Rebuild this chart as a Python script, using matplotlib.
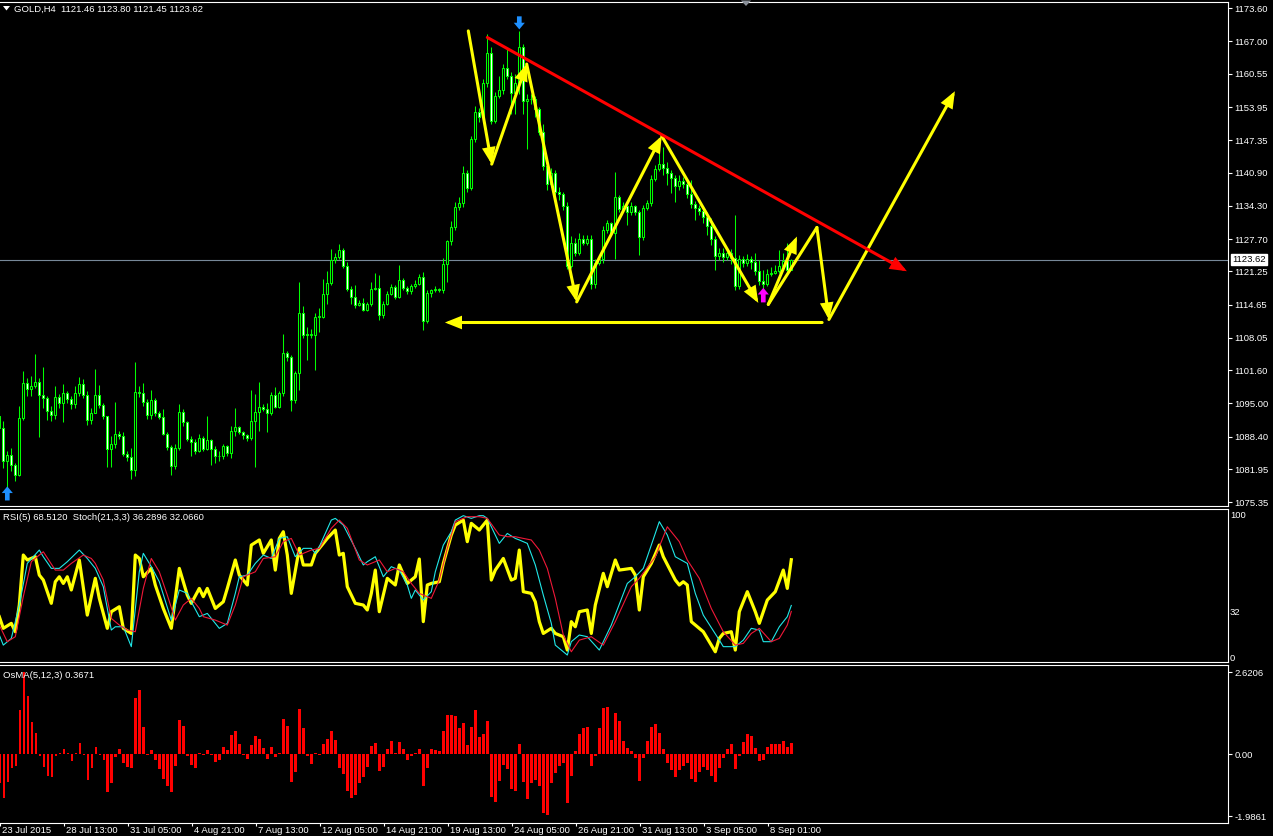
import matplotlib
matplotlib.use('Agg')
import matplotlib.pyplot as plt
from matplotlib.patches import FancyArrowPatch, Polygon
from matplotlib.transforms import ScaledTranslation, blended_transform_factory

plt.rcParams['font.family'] = ['Liberation Sans', 'DejaVu Sans']

W, H = 1273, 836
FS = 6.8

# GOLD,H4 candles, bar 0 = 23 Jul 2015
first_open = 1092.5
closes = [
    1090.1, 1083.5, 1084.8, 1082.7, 1080.7, 1092.1, 1099.0, 1097.8, 1098.4, 1099.3,
    1096.6, 1096.0, 1093.5, 1092.7, 1096.3, 1095.0, 1097.0, 1095.8, 1094.8, 1097.1,
    1098.8, 1096.6, 1091.7, 1093.1, 1096.7, 1094.6, 1092.5, 1086.0, 1087.0, 1088.9,
    1088.5, 1085.0, 1084.3, 1081.7, 1097.3, 1097.1, 1095.2, 1092.8, 1095.6, 1093.0,
    1092.3, 1089.0, 1086.4, 1082.5, 1086.2, 1093.3, 1091.3, 1088.0, 1087.4, 1085.5,
    1088.2, 1086.0, 1087.8, 1086.0, 1084.6, 1084.5, 1086.6, 1085.2, 1089.6, 1090.3,
    1089.3, 1088.7, 1088.1, 1091.5, 1093.3, 1094.3, 1093.9, 1093.1, 1096.7, 1094.3,
    1097.0, 1105.1, 1104.3, 1095.6, 1101.1, 1112.9, 1108.7, 1108.6, 1108.7, 1112.2,
    1112.2, 1116.7, 1119.0, 1123.5, 1124.2, 1125.6, 1122.4, 1117.8, 1116.2, 1114.5,
    1114.9, 1113.5, 1114.7, 1117.8, 1118.0, 1112.5, 1114.8, 1116.8, 1118.2, 1116.2,
    1119.6, 1118.0, 1117.3, 1118.3, 1118.8, 1120.2, 1111.4, 1117.0, 1117.5, 1117.7,
    1117.5, 1122.8, 1127.3, 1130.0, 1134.0, 1134.8, 1140.8, 1137.9, 1147.6, 1152.9,
    1151.9, 1158.8, 1164.8, 1151.2, 1156.2, 1157.4, 1161.8, 1160.2, 1156.8, 1158.8,
    1165.8, 1155.2, 1155.5, 1155.6, 1153.5, 1148.9, 1142.3, 1138.7, 1140.9, 1137.1,
    1136.6, 1134.3, 1122.4, 1127.0, 1125.0, 1127.7, 1127.0, 1127.8, 1118.7, 1123.0,
    1123.7, 1129.5, 1130.8, 1129.0, 1136.0, 1133.6, 1134.2, 1133.0, 1134.2, 1133.1,
    1128.2, 1133.8, 1134.8, 1139.6, 1141.6, 1142.6, 1141.8, 1140.9, 1139.9, 1138.3,
    1139.3, 1138.6, 1136.6, 1134.6, 1133.8, 1133.3, 1132.0, 1130.3, 1127.7, 1124.3,
    1125.0, 1124.2, 1125.0, 1124.0, 1118.4, 1123.7, 1123.0, 1123.7, 1123.2, 1121.4,
    1119.4, 1118.7, 1120.7, 1121.0, 1121.4, 1122.4, 1123.4, 1121.46, 1123.62]
highs = [
    1094.0, 1091.5, 1085.6, 1086.2, 1083.2, 1094.5, 1101.5, 1100.0, 1100.4, 1104.9,
    1100.1, 1102.2, 1096.4, 1094.5, 1098.5, 1096.8, 1098.9, 1097.5, 1096.5, 1098.5,
    1100.3, 1099.8, 1097.4, 1094.0, 1101.9, 1098.6, 1095.0, 1092.6, 1088.5, 1095.3,
    1089.5, 1089.3, 1085.5, 1086.2, 1103.3, 1098.5, 1099.0, 1095.8, 1097.6, 1096.0,
    1093.5, 1093.8, 1089.3, 1086.8, 1087.0, 1094.8, 1093.8, 1091.5, 1088.5, 1088.0,
    1089.0, 1088.5, 1092.5, 1088.0, 1086.5, 1085.5, 1087.0, 1086.8, 1090.5, 1094.0,
    1090.5, 1089.6, 1089.0, 1097.6, 1096.9, 1099.3, 1094.8, 1095.1, 1097.3, 1098.3,
    1097.5, 1108.8, 1105.5, 1104.6, 1101.5, 1119.2, 1114.3, 1110.2, 1109.9, 1113.0,
    1114.0, 1119.8, 1121.4, 1125.8, 1125.0, 1126.8, 1126.0, 1123.1, 1118.3, 1118.5,
    1115.5, 1116.0, 1115.2, 1119.2, 1121.0, 1120.6, 1115.3, 1117.3, 1118.8, 1118.6,
    1122.6, 1120.0, 1118.3, 1118.8, 1119.6, 1120.8, 1121.1, 1117.5, 1117.8, 1118.3,
    1118.0, 1124.0, 1127.6, 1131.3, 1135.0, 1136.0, 1142.3, 1141.5, 1148.2, 1154.2,
    1153.8, 1159.5, 1168.4, 1165.8, 1157.0, 1160.2, 1162.5, 1165.5, 1161.0, 1160.5,
    1169.1, 1166.5, 1156.5, 1156.5, 1156.2, 1154.0, 1150.5, 1143.5, 1141.8, 1141.5,
    1138.0, 1137.0, 1135.0, 1128.3, 1128.0, 1129.0, 1128.5, 1128.5, 1128.5, 1123.8,
    1124.5, 1130.3, 1131.5, 1131.0, 1141.1, 1136.5, 1135.0, 1134.5, 1135.0, 1134.5,
    1133.5, 1134.5, 1135.5, 1140.5, 1142.4, 1146.3, 1146.0, 1143.0, 1141.5, 1140.5,
    1140.5, 1140.0, 1139.3, 1139.5, 1135.2, 1134.5, 1134.0, 1133.0, 1131.8, 1128.3,
    1126.0, 1126.0, 1125.8, 1125.8, 1132.4, 1124.5, 1124.3, 1124.8, 1124.3, 1125.0,
    1123.6, 1121.5, 1121.8, 1122.2, 1122.5, 1125.5, 1125.0, 1127.0, 1123.80]
lows = [
    1089.5, 1082.2, 1078.2, 1081.5, 1079.6, 1080.5, 1091.8, 1096.5, 1096.4, 1098.0,
    1088.3, 1094.1, 1091.8, 1091.5, 1092.0, 1094.0, 1091.3, 1095.0, 1093.8, 1094.0,
    1096.5, 1096.0, 1090.8, 1091.0, 1093.0, 1094.0, 1092.0, 1082.3, 1082.3, 1086.2,
    1088.0, 1084.5, 1083.5, 1079.9, 1080.5, 1096.3, 1094.5, 1092.0, 1092.0, 1092.5,
    1092.0, 1088.8, 1085.7, 1080.7, 1082.0, 1085.8, 1090.5, 1087.5, 1084.5, 1085.0,
    1085.3, 1085.5, 1085.8, 1082.7, 1083.2, 1083.5, 1084.0, 1084.5, 1084.2, 1088.5,
    1089.0, 1088.0, 1087.5, 1087.8, 1082.4, 1089.5, 1093.5, 1089.3, 1092.8, 1094.0,
    1094.0, 1096.5, 1103.5, 1093.5, 1095.0, 1097.6, 1108.0, 1103.6, 1108.0, 1101.6,
    1109.2, 1112.0, 1114.8, 1118.5, 1123.0, 1123.8, 1122.0, 1117.3, 1114.8, 1114.0,
    1114.3, 1113.3, 1113.3, 1114.3, 1117.5, 1111.6, 1112.0, 1114.5, 1116.5, 1115.8,
    1116.0, 1117.5, 1116.8, 1116.8, 1118.0, 1118.5, 1109.6, 1111.0, 1116.2, 1117.2,
    1117.2, 1117.0, 1119.1, 1126.5, 1129.5, 1133.5, 1134.0, 1137.0, 1137.4, 1147.0,
    1151.0, 1151.5, 1158.0, 1150.5, 1150.8, 1155.8, 1156.5, 1159.5, 1152.5, 1152.5,
    1156.5, 1152.5, 1145.6, 1154.5, 1152.0, 1148.3, 1141.5, 1137.5, 1138.0, 1136.5,
    1135.5, 1133.5, 1121.8, 1122.0, 1124.3, 1124.5, 1126.5, 1126.5, 1117.8, 1118.0,
    1122.5, 1123.0, 1129.0, 1128.5, 1123.7, 1133.0, 1133.2, 1130.5, 1132.5, 1132.5,
    1124.5, 1127.5, 1133.5, 1134.2, 1139.2, 1141.2, 1140.5, 1138.5, 1136.8, 1135.0,
    1137.5, 1137.8, 1135.8, 1133.8, 1131.5, 1132.5, 1130.8, 1128.5, 1126.5, 1121.6,
    1123.5, 1123.2, 1123.5, 1122.8, 1117.6, 1117.8, 1122.2, 1122.4, 1121.8, 1120.6,
    1118.6, 1117.3, 1118.3, 1120.3, 1120.7, 1121.0, 1121.8, 1120.8, 1121.45]

# OsMA(5,12,3) histogram, one value per bar
osma = [
    -0.91, -1.41, -0.89, -0.45, -0.37, 1.41, 2.62, 1.87, 1.04, 0.67,
    -0.05, -0.41, -0.70, -0.73, -0.05, 0.05, 0.16, 0.03, -0.21, 0.05,
    0.35, -0.02, -0.82, -0.43, 0.22, -0.02, -0.18, -1.22, -0.92, -0.09,
    0.16, -0.29, -0.40, -0.45, 1.80, 2.05, 0.87, -0.02, 0.13, -0.18,
    -0.48, -0.79, -1.03, -1.22, -0.37, 1.09, 0.90, -0.05, -0.34, -0.45,
    0.03, -0.03, 0.13, -0.03, -0.24, -0.18, 0.22, 0.14, 0.61, 0.75,
    0.32, -0.02, -0.16, 0.29, 0.57, 0.48, 0.19, -0.15, 0.22, -0.09,
    0.03, 1.12, 0.89, -0.89, -0.57, 1.44, 0.83, -0.07, -0.31, 0.03,
    -0.02, 0.32, 0.50, 0.74, 0.45, -0.45, -0.64, -1.18, -1.39, -1.31,
    -0.91, -0.73, -0.41, 0.25, 0.35, -0.54, -0.40, 0.18, 0.42, 0.03,
    0.40, 0.16, -0.18, -0.05, 0.05, 0.18, -1.02, -0.45, 0.18, 0.13,
    0.09, 0.74, 1.25, 1.25, 1.22, 0.83, 1.00, 0.29, 0.87, 1.41,
    0.55, 0.64, 1.06, -1.37, -1.53, -0.86, -0.35, -0.47, -1.11, -1.18,
    0.32, -0.90, -1.43, -0.92, -0.82, -1.02, -1.88, -1.95, -0.92, -0.60,
    -0.37, -0.28, -1.56, -0.70, 0.10, 0.64, 0.83, 0.87, -0.37, -0.05,
    0.83, 1.48, 1.51, 0.45, 1.32, 1.06, 0.42, 0.19, 0.10, -0.12,
    -0.86, -0.12, 0.42, 0.87, 0.96, 0.67, 0.16, -0.28, -0.50, -0.73,
    -0.50, -0.37, -0.28, -0.79, -0.89, -0.57, -0.41, -0.50, -0.70, -0.89,
    -0.44, -0.12, 0.16, 0.32, -0.47, -0.05, 0.39, 0.64, 0.58, 0.19,
    -0.21, -0.18, 0.22, 0.32, 0.32, 0.32, 0.42, 0.22, 0.37]

# RSI(5), read at its turning points (bar, value)
rsi_bars = [0, 1, 3, 4, 5, 6, 7, 9, 10, 11, 13, 14, 15, 16, 17, 18, 20, 22, 24, 25,
            27, 28, 30, 31, 33, 34, 35, 36, 38, 39, 41, 43, 45, 47, 48, 50, 51, 52, 54, 56,
            57, 59, 60, 62, 63, 65, 66, 68, 69, 70, 71, 72, 73, 75, 76, 78, 79, 82, 84, 85,
            86, 87, 89, 91, 92, 93, 94, 95, 97, 99, 100, 102, 104, 105, 106, 107, 108, 110, 111, 113,
            114, 116, 117, 118, 120, 122, 123, 124, 126, 128, 129, 130, 131, 133, 134, 135, 136, 138, 139, 141,
            142, 143, 144, 145, 147, 148, 149, 151, 152, 154, 155, 158, 159, 160, 161, 163, 165, 166, 169, 170,
            171, 172, 173, 176, 178, 179, 180, 181, 183, 184, 185, 187, 189, 190, 192, 194, 196, 197, 198]
rsi_vals = [28.4, 20.2, 23.7, 17.8, 36.6, 71.8, 68.3, 70.6, 57.7, 54.2, 37.8, 53.0, 56.5, 51.8, 56.5, 47.2, 68.3, 29.5, 55.4, 41.3,
            20.2, 31.9, 35.4, 20.2, 16.6, 71.8, 69.4, 56.5, 62.4, 50.7, 34.2, 20.2, 62.4, 43.6, 37.8, 48.3, 42.5, 48.3, 34.2, 38.9,
            48.3, 68.3, 57.7, 50.7, 78.8, 82.4, 73.0, 82.4, 61.2, 83.5, 88.2, 71.8, 44.8, 76.5, 64.8, 64.8, 73.0, 83.5, 89.4, 71.8,
            73.0, 49.5, 37.8, 36.6, 33.1, 44.8, 61.2, 31.9, 55.4, 50.7, 64.8, 51.8, 56.5, 69.0, 24.9, 50.7, 51.8, 53.0, 65.9, 85.9,
            92.9, 96.4, 81.2, 94.1, 89.4, 96.4, 54.2, 61.2, 69.4, 54.2, 55.4, 75.3, 46.0, 44.8, 38.9, 24.9, 16.6, 20.2, 16.6, 14.3,
            4.9, 24.9, 21.3, 31.9, 33.1, 16.6, 36.6, 58.9, 49.5, 68.3, 61.2, 62.4, 57.7, 33.1, 56.5, 65.9, 78.8, 70.6, 54.2, 50.7,
            53.0, 50.7, 24.9, 17.8, 8.4, 3.7, 13.1, 16.6, 17.8, 4.9, 31.9, 46.0, 31.9, 23.7, 40.1, 46.0, 61.2, 48.3, 68.5]

# Stoch(21,3,3) main line
stoch_bars = [0, 1, 3, 5, 7, 10, 11, 13, 15, 17, 20, 22, 24, 26, 28, 29, 31, 33, 35, 36,
              38, 40, 43, 45, 47, 48, 50, 52, 55, 57, 59, 60, 62, 64, 66, 68, 70, 72, 74, 76,
              78, 79, 80, 83, 84, 86, 89, 91, 92, 94, 96, 98, 100, 102, 103, 104, 106, 108, 109, 111,
              113, 114, 116, 118, 120, 121, 122, 125, 127, 129, 130, 132, 134, 136, 138, 139, 142, 143, 145, 147,
              150, 153, 157, 159, 161, 163, 165, 167, 169, 172, 174, 176, 180, 181, 184, 186, 188, 190, 191, 193,
              195, 197, 198]
stoch_vals = [15.5, 8.4, 13.1, 36.6, 65.9, 75.3, 70.6, 62.4, 62.4, 67.1, 75.3, 69.4, 62.4, 49.5, 19.0, 21.3, 21.3, 7.3, 60.0, 73.0,
              63.6, 53.0, 26.0, 47.2, 44.8, 38.9, 28.4, 30.7, 20.2, 23.7, 44.8, 56.5, 57.7, 65.9, 71.8, 69.4, 83.5, 84.7, 70.6, 76.5,
              76.5, 73.0, 77.7, 96.4, 97.6, 92.9, 76.5, 64.8, 67.1, 70.6, 56.5, 63.6, 61.2, 50.7, 41.3, 47.2, 40.1, 46.0, 60.0, 78.8,
              88.2, 96.4, 99.5, 97.6, 99.5, 99.5, 97.6, 80.0, 87.0, 83.5, 82.4, 80.0, 64.8, 43.6, 23.7, 8.4, 1.4, 10.8, 15.5, 14.3,
              4.9, 22.5, 51.8, 56.5, 62.4, 78.8, 95.3, 85.9, 70.6, 65.9, 44.8, 29.5, 11.9, 7.3, 7.3, 11.9, 20.2, 19.0, 10.8, 10.8,
              21.3, 28.4, 36.3]

# Stoch signal line
signal_bars = [0, 2, 4, 6, 8, 11, 14, 16, 18, 21, 23, 24, 26, 28, 30, 32, 34, 36, 38, 40,
               42, 44, 46, 48, 50, 51, 54, 57, 59, 61, 64, 66, 69, 71, 73, 75, 78, 80, 83, 85,
               87, 90, 92, 95, 97, 99, 101, 103, 105, 108, 110, 112, 114, 117, 120, 122, 125, 127, 129, 131,
               133, 135, 137, 139, 141, 143, 145, 148, 151, 154, 158, 160, 164, 167, 170, 172, 175, 178, 181, 184,
               186, 188, 190, 193, 195, 197, 198]
signal_vals = [22.5, 10.8, 14.3, 42.5, 67.1, 74.1, 61.2, 61.2, 65.9, 71.8, 69.4, 65.9, 54.2, 27.2, 22.5, 19.0, 17.8, 48.3, 69.4, 60.0,
               43.6, 26.0, 36.6, 41.3, 34.2, 28.4, 26.0, 22.5, 36.6, 56.5, 60.0, 69.4, 70.6, 81.2, 83.5, 71.8, 75.3, 76.5, 90.6, 96.4,
               90.6, 68.3, 64.8, 68.3, 60.0, 62.4, 60.0, 51.8, 44.8, 41.3, 54.2, 76.5, 95.3, 98.8, 98.8, 97.6, 85.9, 84.7, 84.7, 83.5,
               82.4, 75.3, 62.4, 41.3, 15.5, 3.7, 11.9, 14.3, 8.4, 24.9, 49.5, 55.4, 70.6, 91.7, 81.2, 68.3, 55.4, 34.2, 17.8, 8.4,
               9.6, 16.6, 20.2, 10.8, 13.1, 22.5, 32.1]

price_ticks = [1173.60, 1167.00, 1160.55, 1153.95, 1147.35, 1140.90, 1134.30, 1127.70,
               1121.25, 1114.65, 1108.05, 1101.60, 1095.00, 1088.40, 1081.95, 1075.35]
bid = 1123.62
time_bars = [0, 16, 32, 48, 64, 80, 96, 112, 128, 144, 160, 176, 192]
time_labels = ['23 Jul 2015', '28 Jul 13:00', '31 Jul 05:00', '4 Aug 21:00', '7 Aug 13:00',
               '12 Aug 05:00', '14 Aug 21:00', '19 Aug 13:00', '24 Aug 05:00', '26 Aug 21:00',
               '31 Aug 13:00', '3 Sep 05:00', '8 Sep 01:00']

# hand drawn objects: yellow zigzag, second leg, projection, support, red trendline
zig_bars = [117.25, 123.1, 131.85, 144.35, 165.6, 189.75]
zig_prices = [1169.1, 1142.6, 1162.5, 1115.2, 1148.2, 1115.0]
leg_bars = [192.25, 199.4]
leg_prices = [1114.7, 1128.2]
proj_bars = [192.25, 204.4, 207.4, 238.9]
proj_prices = [1114.7, 1130.0, 1111.7, 1157.1]
support_bars = [205.7, 111.4]
support_price = 1111.1
trend_bars = [122.0, 226.9]
trend_prices = [1167.8, 1121.3]

LIME = '#00FF00'
FG = 'white'


def px_axes(x0, y0, x1, y1):
    return fig.add_axes([x0 / W, 1 - y1 / H, (x1 - x0) / W, (y1 - y0) / H])


def style(ax):
    ax.set_facecolor('black')
    ax.spines['left'].set_visible(False)
    for s in ('top', 'right', 'bottom'):
        ax.spines[s].set_color(FG)
        ax.spines[s].set_linewidth(0.8)
    ax.set_xlim(0.175, 307.175)
    ax.yaxis.tick_right()
    ax.tick_params(axis='y', colors=FG, labelcolor=FG, labelsize=FS, length=3, width=0.8, pad=1.5)
    ax.tick_params(axis='x', bottom=False, labelbottom=False)


fig = plt.figure(figsize=(W / 100, H / 100), dpi=100, facecolor='black')
ax1 = px_axes(0, 2, 1228, 506)
ax2 = px_axes(0, 509, 1228, 662)
ax3 = px_axes(0, 665, 1228, 823)
for a in (ax1, ax2, ax3):
    style(a)

# candles
n = len(closes)
idx = list(range(n))
opens = [first_open] + closes[:-1]
ax1.vlines(idx, lows, highs, color=LIME, lw=0.75, zorder=2)
bottoms = [min(o, c) for o, c in zip(opens, closes)]
heights = [max(abs(c - o), 0.12) for o, c in zip(opens, closes)]
fills = ['black' if c >= o else 'white' for o, c in zip(opens, closes)]
ax1.bar(idx, heights, bottom=bottoms, width=0.58, color=fills, edgecolor=LIME, linewidth=0.75, zorder=3)
ax1.axhline(bid, color='#778899', lw=0.8, zorder=1)
ax1.set_ylim(1074.6, 1174.85)
ax1.set_yticks(price_ticks, labels=[f'{p:.2f}' for p in price_ticks])
tr = blended_transform_factory(ax1.transAxes, ax1.transData)
ax1.text(1.0035, bid, f'{bid:.2f}', transform=tr, color='black', fontsize=FS, va='center', ha='left',
         bbox=dict(boxstyle='square,pad=0.15', fc='white', ec='white'), zorder=10)


def arrow(ax, p0, p1, color, lw=2.2, head=True, scale=15):
    style_ = '-|>,head_length=0.55,head_width=0.22' if head else '-'
    ax.add_patch(FancyArrowPatch(p0, p1, arrowstyle=style_, mutation_scale=scale, color=color,
                                 lw=lw, shrinkA=0, shrinkB=0, zorder=6, joinstyle='miter'))


for k in range(len(zig_bars) - 1):
    arrow(ax1, (zig_bars[k], zig_prices[k]), (zig_bars[k + 1], zig_prices[k + 1]), 'yellow')
arrow(ax1, (leg_bars[0], leg_prices[0]), (leg_bars[1], leg_prices[1]), 'yellow')
arrow(ax1, (proj_bars[0], proj_prices[0]), (proj_bars[1], proj_prices[1]), 'yellow', head=False)
arrow(ax1, (proj_bars[1], proj_prices[1]), (proj_bars[2], proj_prices[2]), 'yellow')
arrow(ax1, (proj_bars[2], proj_prices[2]), (proj_bars[3], proj_prices[3]), 'yellow')
arrow(ax1, (support_bars[0], support_price), (support_bars[1], support_price), 'yellow')
arrow(ax1, (trend_bars[0], trend_prices[0]), (trend_bars[1], trend_prices[1]), 'red')

# fractal style signal arrows
sig = 'simple,head_length=0.6,head_width=1.0,tail_width=0.42'
for (b, p0, p1, c) in [(130, 1172.0, 1169.4, '#1E90FF'), (2, 1075.7, 1078.5, '#1E90FF'),
                       (191, 1115.1, 1118.0, '#FF00FF')]:
    ax1.add_patch(FancyArrowPatch((b, p0), (b, p1), arrowstyle=sig, mutation_scale=8, color=c,
                                  lw=0, shrinkA=0, shrinkB=0, zorder=7))

# RSI + Stoch
ax2.plot(rsi_bars, rsi_vals, color='yellow', lw=2.3, zorder=3, solid_joinstyle='round')
ax2.plot(stoch_bars, stoch_vals, color='#20E8E8', lw=0.8, zorder=4)
ax2.plot(signal_bars, signal_vals, color='#F01838', lw=0.8, zorder=4)
ax2.set_ylim(-3.5, 104.2)
ax2.set_yticks([100, 32, 0], labels=['100', '32', '0'])
ax2.tick_params(axis='y', length=0)

# OsMA
ax3.bar(idx, osma, width=0.72, color='#FF0000', linewidth=0, zorder=3)
ax3.set_ylim(-2.2, 2.85)
ax3.set_yticks([2.6206, 0.0, -1.9861], labels=['2.6206', '0.00', '-1.9861'])
ax3.tick_params(axis='x', bottom=True, labelbottom=True, colors=FG, labelcolor=FG,
                labelsize=FS, length=2.5, width=0.8, pad=0)
ax3.set_xticks(time_bars, labels=time_labels)
for lab in ax3.get_xticklabels():
    lab.set_ha('left')
    lab.set_transform(lab.get_transform() + ScaledTranslation(2 / 100, 0, fig.dpi_scale_trans))


def fx(x):
    return x / W


def fy(y):
    return 1 - y / H


fig.patches.append(Polygon([(fx(3), fy(6)), (fx(10), fy(6)), (fx(6.5), fy(10.5))], closed=True,
                           transform=fig.transFigure, fc=FG, ec=FG, lw=0))
fig.patches.append(Polygon([(fx(741), fy(0.5)), (fx(751), fy(0.5)), (fx(746), fy(6))], closed=True,
                           transform=fig.transFigure, fc='#8A9099', ec='none'))
fig.text(fx(14), fy(9), 'GOLD,H4  1121.46 1123.80 1121.45 1123.62', color=FG, fontsize=FS, va='center')
fig.text(fx(3), fy(518), 'RSI(5) 68.5120  Stoch(21,3,3) 36.2896 32.0660', color=FG, fontsize=FS, va='center')
fig.text(fx(3), fy(675), 'OsMA(5,12,3) 0.3671', color=FG, fontsize=FS, va='center')

fig.savefig('out.png', dpi=100, facecolor='black')
